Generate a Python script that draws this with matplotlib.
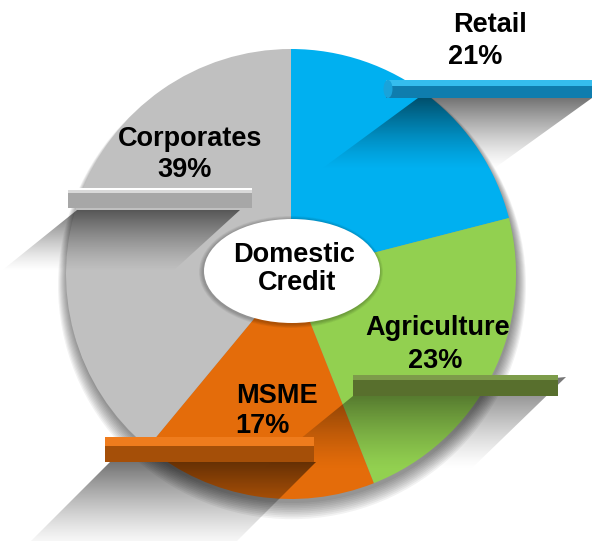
import numpy as np
import matplotlib
matplotlib.use("Agg")
import matplotlib.pyplot as plt
from matplotlib.patches import Polygon, Rectangle, Ellipse, Circle

# data
labels = ["Retail", "Agriculture", "MSME", "Corporates"]
shares = [21, 23, 17, 39]
colors = ["#00B0F0", "#92D050", "#E46C0A", "#C0C0C0"]
centre_text = "Domestic\nCredit"

W, H = 597, 541
fig = plt.figure(figsize=(W / 100, H / 100), dpi=100)
ax = fig.add_axes([0, 0, 1, 1])
ax.set_xlim(0, W)
ax.set_ylim(H, 0)

cx, cy, r = 291, 274, 225

# soft shadow under the pie
for i in range(10):
    ax.add_patch(Circle((cx + 1, cy + 4 + i * 0.8), r + i * 1.0, color="black",
                        alpha=0.05, lw=0, zorder=0))

# y axis is inverted, so counterclock in data space is clockwise on screen
ax.pie(shares, colors=colors, startangle=-90, counterclock=True,
       center=(cx, cy), radius=r, wedgeprops=dict(linewidth=0, zorder=1))


def shadow(pts, a0=0.55):
    # gradient shadow, dark at top fading to nothing
    poly = Polygon(pts, closed=True, facecolor="none", edgecolor="none")
    ax.add_patch(poly)
    xs = [p[0] for p in pts]
    ys = [p[1] for p in pts]
    n = 100
    t = np.linspace(0, 1, n)
    grad = np.zeros((n, 1, 4))
    grad[:, 0, 3] = a0 * (1 - t) ** 1.3
    im = ax.imshow(grad, extent=(min(xs), max(xs), max(ys), min(ys)),
                   origin="upper", aspect="auto", zorder=3, interpolation="bilinear")
    im.set_clip_path(poly)


# shelf shadows
shadow([(418, 98), (592, 98), (492, 170), (320, 170)])
shadow([(77, 210), (240, 210), (172, 272), (0, 272)])
shadow([(353, 396), (566, 377), (470, 470), (262, 470)])
shadow([(110, 462), (316, 462), (226, 552), (20, 552)])


def shelf(x0, x1, ytop, ymid, ybot, ctop, cfront, cedge=None):
    ax.add_patch(Rectangle((x0, ytop), x1 - x0, ymid - ytop, color=ctop, lw=0, zorder=4))
    ax.add_patch(Rectangle((x0, ymid), x1 - x0, ybot - ymid, color=cfront, lw=0, zorder=4))
    if cedge:
        ax.add_patch(Rectangle((x0, ytop), x1 - x0, 2, color=cedge, lw=0, zorder=4))


shelf(386, 592, 80, 86, 98, "#35BDEE", "#0F7DAE")
ax.add_patch(Ellipse((388, 89), 9, 18, color="#1AA3DA", lw=0, zorder=4))
shelf(68, 252, 188, 193, 208, "#D9D9D9", "#A7A7A7", cedge="#FFFFFF")
shelf(353, 558, 375, 380, 396, "#7D9C4A", "#586F2D")
shelf(105, 314, 437, 446, 462, "#EF7C1D", "#A54F08")

# centre ellipse with soft edge
ex, ey, ew, eh = 292, 271, 176, 104
for i in range(5):
    ax.add_patch(Ellipse((ex - 1, ey + 1), ew + 8 - i * 1.6, eh + 8 - i * 1.6,
                         color="black", alpha=0.05, lw=0, zorder=5))
ax.add_patch(Ellipse((ex, ey), ew, eh, color="white", lw=0, zorder=5))

font = dict(family=["Liberation Sans", "DejaVu Sans"], fontweight="bold",
            fontsize=19.5, color="black", zorder=6)

# label anchors (x, baseline) for name and percent lines
name_pos = {"Retail": (490, 32), "Agriculture": (438, 335),
            "MSME": (277, 403), "Corporates": (190, 146)}
pct_pos = {"Retail": (475, 64), "Agriculture": (435, 368),
           "MSME": (262, 433), "Corporates": (185, 177)}

for lab, val in zip(labels, shares):
    x, y = name_pos[lab]
    ax.text(x, y, lab, ha="center", va="baseline", **font)
    x, y = pct_pos[lab]
    ax.text(x, y, f"{val}%", ha="center", va="baseline", **font)

l1, l2 = centre_text.split("\n")
ax.text(294, 262, l1, ha="center", va="baseline", **font)
ax.text(297, 290, l2, ha="center", va="baseline", **font)

ax.set_xlim(0, W)
ax.set_ylim(H, 0)
ax.set_aspect("auto")
ax.axis("off")

fig.savefig("out.png", dpi=100)
